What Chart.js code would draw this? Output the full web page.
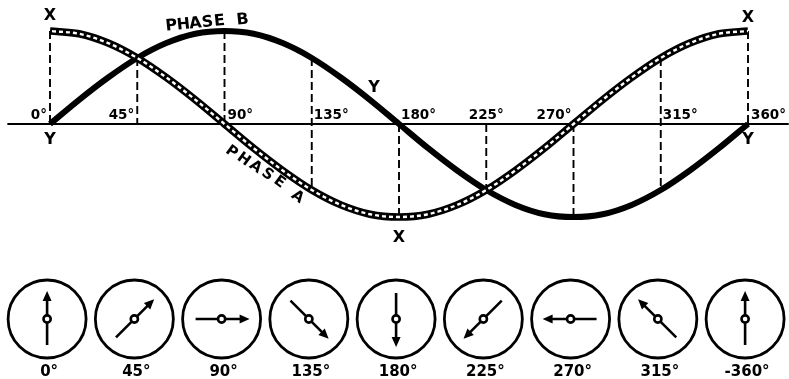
<!DOCTYPE html>
<html><head><meta charset="utf-8">
<script src="https://cdn.jsdelivr.net/npm/chart.js@4"></script>
<style>html,body{margin:0;padding:0;background:#fff}canvas{display:block}</style>
</head><body>
<canvas id="c" width="789" height="379"></canvas>
<script>
// ---- data ----
const degrees = [0,15,30,45,60,75,90,105,120,135,150,165,180,195,210,225,240,255,270,285,300,315,330,345,360];
const phaseB  = [0,0.26,0.5,0.71,0.87,0.97,1,0.97,0.87,0.71,0.5,0.26,0,-0.26,-0.5,-0.71,-0.87,-0.97,-1,-0.97,-0.87,-0.71,-0.5,-0.26,0];
const phaseA  = [1,0.97,0.87,0.71,0.5,0.26,0,-0.26,-0.5,-0.71,-0.87,-0.97,-1,-0.97,-0.87,-0.71,-0.5,-0.26,0,0.26,0.5,0.71,0.87,0.97,1];
const tickDegrees = [0,45,90,135,180,225,270,315,360];
const tickLabels  = ['0°','45°','90°','135°','180°','225°','270°','315°','360°'];
const phasorAngles = [0,45,90,135,180,225,270,315,360];
const phasorLabels = ['0°','45°','90°','135°','180°','225°','270°','315°','-360°'];

// ---- styling / layout (not data) ----
const FONT = '"DejaVu Sans", sans-serif';
const PHASOR_ROW = -2.097, PHASOR_LABEL_ROW = -2.67, PHASOR_SHIFT = -1.5;
const tickStyle = [
  {align:'right', dx:-3}, {align:'right', dx:-3}, {align:'left', dx:3}, {align:'left', dx:2},
  {align:'left', dx:2}, {align:'center', dx:0}, {align:'right', dx:-2}, {align:'left', dx:2}, {align:'left', dx:3}
];

const pts = arr => degrees.map((d,i)=>({x:d, y:arr[i]}));
const datasets = [];

// base line
datasets.push({data:[{x:-22,y:0},{x:381,y:0}], borderColor:'#000', borderWidth:2.2, pointRadius:0, order:20});

// dashed verticals
tickDegrees.forEach(d=>{
  const i = degrees.indexOf(d);
  const lo = Math.min(0, phaseA[i], phaseB[i]), hi = Math.max(0, phaseA[i], phaseB[i]);
  datasets.push({data:[{x:d,y:hi},{x:d,y:lo}], borderColor:'#000', borderWidth:1.9, borderDash:[8,4], pointRadius:0, order:15});
});

// phase B solid
datasets.push({data:pts(phaseB), borderColor:'#000', borderWidth:6, pointRadius:0, cubicInterpolationMode:'monotone', tension:0.4, order:8});
// phase A hatched band
datasets.push({data:pts(phaseA), borderColor:'#000', borderWidth:7.5, pointRadius:0, cubicInterpolationMode:'monotone', tension:0.4, order:5});
datasets.push({data:pts(phaseA), borderColor:'#fff', borderWidth:2.4, borderDash:[4,3], borderDashOffset:-2, pointRadius:0, cubicInterpolationMode:'monotone', tension:0.4, order:4});

// phasor circles
datasets.push({data:phasorAngles.map(a=>({x:a+PHASOR_SHIFT, y:PHASOR_ROW})), showLine:false, clip:false,
  pointRadius:39, pointBorderWidth:2.8, pointBorderColor:'#000', pointBackgroundColor:'#fff', pointStyle:'circle', order:1});

const annot = {
  id:'annot',
  afterDatasetsDraw(chart){
    const ctx = chart.ctx, xs = chart.scales.x, ys = chart.scales.y;
    const X = v=>xs.getPixelForValue(v), Y = v=>ys.getPixelForValue(v);
    ctx.save();
    ctx.fillStyle = '#000'; ctx.strokeStyle = '#000';
    // degree labels on the base line
    ctx.font = 'bold 13.5px ' + FONT; ctx.textBaseline = 'alphabetic';
    tickDegrees.forEach((d,i)=>{
      ctx.textAlign = tickStyle[i].align;
      ctx.fillText(tickLabels[i], X(d)+tickStyle[i].dx, Y(0)-5);
    });
    // X / Y marks
    ctx.font = 'bold 16px ' + FONT; ctx.textAlign='center'; ctx.textBaseline='middle';
    const marks = [['X',0,1,0,-15],['Y',0,0,0,16],['Y',180,0,-25,-36],['X',180,-1,0,21],['X',360,1,0,-13],['Y',360,0,0,16]];
    marks.forEach(m=>{ ctx.fillText(m[0], X(m[1])+m[3], Y(m[2])+m[4]); });
    // PHASE B letters
    ctx.font = 'bold 16px ' + FONT;
    const pb = [['P',-53,-5],['H',-41,-6],['A',-29,-7.3],['S',-17,-8.5],['E',-5,-9.8],['B',18,-11]];
    pb.forEach(p=>{ ctx.save(); ctx.translate(X(90)+p[1], Y(1)+p[2]); ctx.rotate(-6*Math.PI/180); ctx.fillText(p[0],0,0); ctx.restore(); });
    // PHASE A letters
    ctx.font = 'bold 15px ' + FONT;
    const pa = [['P',7,28],['H',19,35.5],['A',31,43],['S',43,50.5],['E',55,58],['A',73,73]];
    pa.forEach(p=>{ ctx.save(); ctx.translate(X(90)+p[1], Y(0)+p[2]); ctx.rotate(36*Math.PI/180); ctx.fillText(p[0],0,0); ctx.restore(); });
    // phasor arrows
    phasorAngles.forEach((a,i)=>{
      const cx = X(a+PHASOR_SHIFT), cy = Y(PHASOR_ROW);
      const t = a*Math.PI/180, ux = Math.sin(t), uy = -Math.cos(t);
      const tail = 26, tip = 28, head = 10, hw = 4.5;
      ctx.lineWidth = 2.6; ctx.lineCap='butt';
      ctx.beginPath(); ctx.moveTo(cx-ux*tail, cy-uy*tail); ctx.lineTo(cx+ux*(tip-head+1), cy+uy*(tip-head+1)); ctx.stroke();
      const bx = cx+ux*(tip-head), by = cy+uy*(tip-head);
      ctx.beginPath(); ctx.moveTo(cx+ux*tip, cy+uy*tip); ctx.lineTo(bx-uy*hw, by+ux*hw); ctx.lineTo(bx+uy*hw, by-ux*hw); ctx.closePath(); ctx.fill();
      ctx.beginPath(); ctx.arc(cx, cy, 3.6, 0, Math.PI*2); ctx.fillStyle='#fff'; ctx.fill(); ctx.lineWidth=2.6; ctx.stroke(); ctx.fillStyle='#000';
      ctx.font = 'bold 15px ' + FONT; ctx.textAlign='center'; ctx.textBaseline='middle';
      ctx.fillText(phasorLabels[i], cx+2, Y(PHASOR_LABEL_ROW));
    });
    ctx.restore();
  }
};

new Chart(document.getElementById('c'), {
  type:'line',
  data:{datasets},
  options:{
    responsive:false, animation:false, events:[],
    layout:{padding:0, autoPadding:false},
    plugins:{legend:{display:false}, tooltip:{enabled:false}},
    elements:{line:{borderCapStyle:'butt'}},
    scales:{
      x:{type:'linear', display:false, min:-25.79, max:381.14},
      y:{type:'linear', display:false, min:-2.742, max:1.3333}
    }
  },
  plugins:[annot]
});
</script>
</body></html>
